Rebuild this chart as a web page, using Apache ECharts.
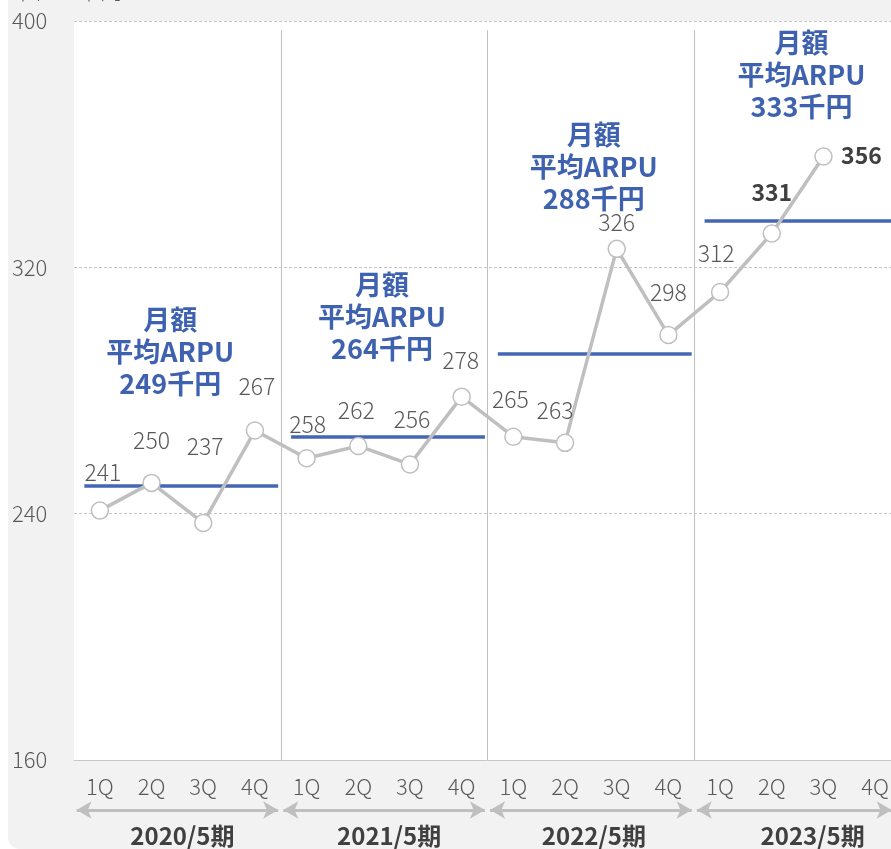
<!DOCTYPE html>
<html><head><meta charset="utf-8">
<script src="https://cdn.jsdelivr.net/npm/echarts@6/dist/echarts.min.js"></script>
<style>
html,body{margin:0;padding:0;background:#fff;width:891px;height:849px;overflow:hidden}
#bg{position:absolute;left:8px;top:-20px;width:920px;height:869px;background:#f2f2f2;border-radius:12px}
#main{position:absolute;left:0;top:0;width:910px;height:849px}
</style></head><body><div id="bg"></div><div id="main"></div>
<script>
// ---- data ----
const quarters = ['1Q','2Q','3Q','4Q','1Q','2Q','3Q','4Q','1Q','2Q','3Q','4Q','1Q','2Q','3Q','4Q'];
const arpu = [241,250,237,267,258,262,256,278,265,263,326,298,312,331,356,null];
const periods = ['2020/5期','2021/5期','2022/5期','2023/5期'];
const avgLineValues = [249,265,292,335];
const avgLabels = ['249','264','288','333'];
const boldPoints = [13,14];
const yMin = 160, yMax = 400, yStep = 80;
const unitText = '単位：千円';

// ---- layout / style ----
const FONT = 'Noto Sans CJK JP';
const labelOffsets = [[3,-38],[0,-43],[2,-77],[2,-44],[1,-34],[-2,-36],[2,-45],[-1,-36],[-3,-37],[-10,-33],[0,-27],[0,-43],[-4,-39],[0,-41],[38,-1],[0,0]];
const annoDistance = [86,72,139,98];
const annoPadRight = [22,12,2,0];

const chart = echarts.init(document.getElementById('main'));

const lineData = arpu.map((v,i)=>({
  value:v,
  label:{
    show: v!=null, position:'inside', offset: labelOffsets[i],
    color: boldPoints.includes(i)?'#404040':'#595959',
    fontWeight: boldPoints.includes(i)?'bold':300,
    fontSize: 23, fontFamily: FONT
  }
}));

const avgMarks = avgLineValues.map((v,g)=>{
  const x0 = g*4+0.2, x1 = Math.min(g*4+3.95, 16);
  return [
    {coord:[x0,v], label:{show:true, position:'middle', distance: annoDistance[g],
      formatter: '月額\n平均ARPU\n'+avgLabels[g]+'千円',
      color:'#3f62b0', fontSize:27, fontWeight:'bold', lineHeight:32, fontFamily:FONT,
      padding:[0,annoPadRight[g],0,0]}},
    {coord:[x1,v]}
  ];
});
const sepMarks = [4,8,12].map(x=>[{coord:[x,397]},{coord:[x,yMin]}]);
const arrowMarks = periods.map((p,g)=>[
  {coord:[g*4+0.05,0.5]},{coord:[Math.min(g*4+3.95,15.82),0.5]}
]);
const grpRich = {};
[10,10,6,30].forEach((p,i)=>{grpRich['g'+i]={padding:[0,0,0,p],fontSize:24,fontWeight:'bold',color:'#404040',fontFamily:FONT};});

const option = {
  animation:false,
  textStyle:{fontFamily:FONT},
  grid:[
    {left:74, right:9, top:21, bottom:89, show:true, backgroundColor:'#fff', borderWidth:0},
    {left:74, right:9, top:800, height:20}
  ],
  xAxis:[
    {type:'category', gridIndex:0, data:quarters, boundaryGap:true,
     axisLine:{lineStyle:{color:'#c8c8c8',width:1}},
     axisTick:{inside:true, length:6, lineStyle:{color:'#c8c8c8'}},
     axisLabel:{interval:0, color:'#595959', fontSize:22, fontWeight:300, margin:16, fontFamily:FONT}},
    {type:'value', gridIndex:0, min:0, max:16, show:false},
    {type:'value', gridIndex:1, min:0, max:16, show:false},
    {type:'category', gridIndex:1, data:periods, position:'bottom',
     axisLine:{show:false}, axisTick:{show:false},
     axisLabel:{interval:0, margin:4, fontFamily:FONT, fontSize:24, fontWeight:'bold', color:'#404040',
       formatter:(v,i)=>'{g'+i+'|'+v+'}', rich:grpRich}}
  ],
  yAxis:[
    {type:'value', gridIndex:0, min:yMin, max:yMax, interval:yStep,
     axisLine:{show:false}, axisTick:{show:false},
     axisLabel:{color:'#595959', fontSize:22, fontWeight:300, align:'left', margin:62, fontFamily:FONT},
     splitLine:{lineStyle:{color:'#c8c8c8', type:[3,2], width:1}}},
    {type:'value', gridIndex:1, min:0, max:1, show:false}
  ],
  series:[
    {type:'line', xAxisIndex:1, yAxisIndex:0, data:[], z:1, silent:true,
     markLine:{silent:true, symbol:['none','none'], animation:false,
       lineStyle:{color:'#bfbfbf', width:1, type:'solid'}, label:{show:false},
       data: sepMarks}},
    {type:'line', xAxisIndex:1, yAxisIndex:0, data:[], z:2, silent:true,
     markLine:{silent:true, symbol:['none','none'], animation:false,
       lineStyle:{color:'#4466b3', width:3.5, type:'solid'},
       data: avgMarks}},
    {type:'line', xAxisIndex:0, yAxisIndex:0, data:lineData, z:5,
     symbol:'circle', symbolSize:17, showSymbol:true,
     lineStyle:{color:'#bfbfbf', width:3.5},
     itemStyle:{color:'#fff', borderColor:'#bfbfbf', borderWidth:1.5}},
    {type:'line', xAxisIndex:2, yAxisIndex:1, data:[], silent:true,
     markLine:{silent:true, symbol:['arrow','arrow'], symbolSize:[13,15], animation:false,
       lineStyle:{color:'#bfbfbf', width:3, type:'solid'}, label:{show:false},
       data: arrowMarks}}
  ],
  graphic:[
    {type:'text', left:12, top:-20, style:{text:unitText, fill:'#595959', font:'300 22px "Noto Sans CJK JP"'}}
  ]
};
chart.setOption(option);
</script>
</body></html>
